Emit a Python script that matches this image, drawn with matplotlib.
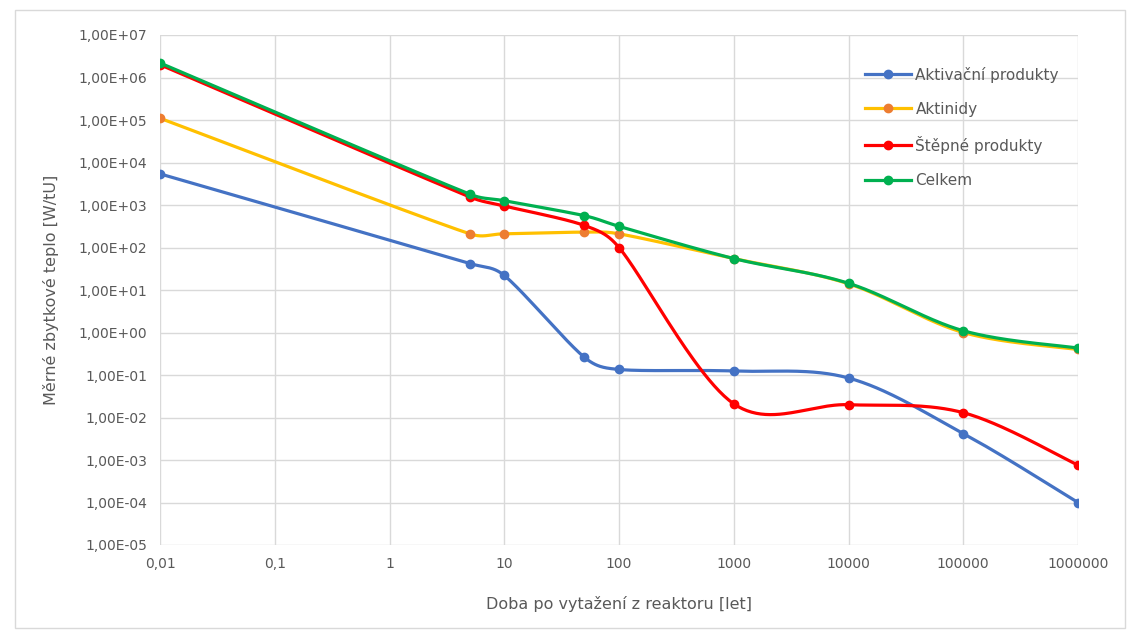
import matplotlib
matplotlib.use("Agg")
import matplotlib.pyplot as plt
from matplotlib.patches import Rectangle
from matplotlib.ticker import FuncFormatter, FixedLocator, NullLocator
import numpy as np

# Doba po vytažení z reaktoru [let]
roky = [0.01, 5, 10, 50, 100, 1000, 10000, 100000, 1000000]

aktivacni = [5.4e3, 42, 22, 0.26, 0.135, 0.124, 0.085, 4.2e-3, 1.0e-4]
aktinidy = [1.1e5, 210, 210, 230, 210, 55, 14, 1.0, 0.40]
stepne = [2.0e6, 1550, 950, 330, 100, 2.1e-2, 2.0e-2, 1.3e-2, 7.6e-4]
celkem = [2.2e6, 1800, 1260, 560, 315, 55, 14.4, 1.1, 0.43]

nazvy = ["Aktivační produkty", "Aktinidy", "Štěpné produkty", "Celkem"]
barvy_car = ["#4472C4", "#FFC000", "#FF0000", "#00B050"]
barvy_bodu = ["#4472C4", "#ED7D31", "#FF0000", "#00B050"]

x_ticks = [0.01, 0.1, 1, 10, 100, 1000, 10000, 100000, 1000000]
y_ticks = [10.0 ** k for k in range(-5, 8)]

SEDA = "#595959"
PX_X, PX_Y = 114.75, 42.5   # pixely na dekádu, pro vyhlazení v prostoru obrazovky


def vyhlazeni(x, y, n=50):
    # vyhlazená čára jako v Excelu (Bezier v log prostoru, tečny omezené délkou úseku)
    p = np.column_stack([np.log10(x) * PX_X, np.log10(y) * PX_Y])
    body = [p[0]]
    for i in range(len(p) - 1):
        p1, p2 = p[i], p[i + 1]
        d12 = np.linalg.norm(p2 - p1)
        if i > 0:
            p0 = p[i - 1]
            f = min(1 / 6, 0.42 * d12 / (np.linalg.norm(p1 - p0) + d12))
            c1 = p1 + (p2 - p0) * f
        else:
            c1 = p1 + (p2 - p1) / 6
        if i + 2 < len(p):
            p3 = p[i + 2]
            f = min(1 / 6, 0.42 * d12 / (np.linalg.norm(p3 - p2) + d12))
            c2 = p2 - (p3 - p1) * f
        else:
            c2 = p2 - (p2 - p1) / 6
        t = np.linspace(0, 1, n)[1:, None]
        seg = (1 - t) ** 3 * p1 + 3 * (1 - t) ** 2 * t * c1 + 3 * (1 - t) * t ** 2 * c2 + t ** 3 * p2
        body.extend(seg)
    body = np.array(body)
    return 10 ** (body[:, 0] / PX_X), 10 ** (body[:, 1] / PX_Y)


fig = plt.figure(figsize=(11.32, 6.37), dpi=100)
ax = fig.add_axes([160 / 1132, 1 - 545 / 637, (1078 - 160) / 1132, (545 - 35) / 637])

for data, nazev, bc, bb in zip([aktivacni, aktinidy, stepne, celkem], nazvy, barvy_car, barvy_bodu):
    xs, ys = vyhlazeni(roky, data)
    ax.plot(xs, ys, color=bc, lw=2.3, solid_capstyle="round")
    ax.plot(roky, data, linestyle="none", marker="o", ms=6, color=bb)
    ax.plot([], [], color=bc, lw=2.3, marker="o", ms=6, mfc=bb, mec=bb, label=nazev)

ax.set_xscale("log")
ax.set_yscale("log")
ax.set_xlim(0.01, 1e6)
ax.set_ylim(1e-5, 1e7)
ax.xaxis.set_major_locator(FixedLocator(x_ticks))
ax.yaxis.set_major_locator(FixedLocator(y_ticks))
ax.xaxis.set_minor_locator(NullLocator())
ax.yaxis.set_minor_locator(NullLocator())
ax.xaxis.set_major_formatter(FuncFormatter(lambda v, pos: f"{v:.10g}".replace(".", ",")))
ax.yaxis.set_major_formatter(FuncFormatter(lambda v, pos: f"{v:.2E}".replace(".", ",")))

ax.grid(True, color="#D9D9D9", lw=1.0)
ax.set_axisbelow(True)
for s in ax.spines.values():
    s.set_visible(False)
ax.tick_params(length=0, labelsize=10, colors=SEDA, pad=9)

ax.set_xlabel("Doba po vytažení z reaktoru [let]", fontsize=11.5, color=SEDA, labelpad=18)
ax.set_ylabel("Měrné zbytkové teplo [W/tU]", fontsize=11.5, color=SEDA, labelpad=14)

leg = ax.legend(loc="upper left", bbox_to_anchor=(0.753, 0.965), frameon=False,
                fontsize=11, labelcolor=SEDA, handlelength=3.0, labelspacing=1.25,
                handletextpad=0.3)

fig.patches.append(Rectangle((15 / 1132, 1 - 628 / 637), 1110 / 1132, 618 / 637,
                             transform=fig.transFigure, fill=False, ec="#D9D9D9", lw=1))

fig.savefig("out.png", dpi=100)
